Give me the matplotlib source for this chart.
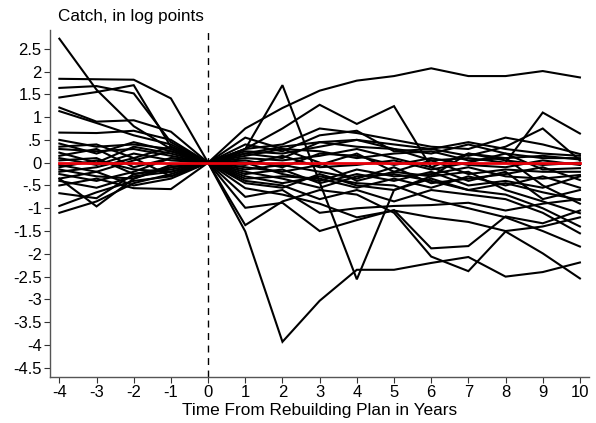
import matplotlib
matplotlib.use("Agg")
import matplotlib.pyplot as plt

# event time in years relative to the rebuilding plan
years_pre = [-4, -3, -2, -1]
years_post = [1, 2, 3, 4, 5, 6, 7, 8, 9, 10]

# log catch relative to year 0, one row per stock, before the plan
pre_catch = [
    [2.72, 1.60, 0.80, 0.30],
    [1.84, 1.83, 1.82, 1.41],
    [1.64, 1.68, 1.52, 0.45],
    [1.43, 1.55, 1.70, 0.35],
    [1.21, 0.90, 0.93, 0.68],
    [1.13, 0.87, 0.60, 0.40],
    [0.66, 0.65, 0.70, 0.50],
    [0.50, 0.35, 0.40, 0.30],
    [0.42, 0.20, 0.45, 0.25],
    [0.35, 0.40, 0.10, 0.35],
    [0.30, 0.25, 0.30, 0.15],
    [0.22, 0.00, 0.35, 0.20],
    [0.15, 0.30, -0.10, 0.10],
    [0.10, -0.05, 0.20, 0.05],
    [0.05, 0.10, -0.25, -0.10],
    [-0.05, -0.20, 0.05, 0.25],
    [-0.10, 0.05, -0.15, -0.20],
    [-0.15, -0.30, -0.35, -0.05],
    [-0.20, -0.10, 0.10, -0.30],
    [-0.25, -0.40, -0.20, 0.10],
    [-0.35, -0.20, -0.50, -0.35],
    [-0.40, -0.55, -0.30, -0.20],
    [-0.50, -0.35, -0.56, -0.58],
    [-0.67, -0.78, -0.25, -0.15],
    [-0.95, -0.65, -0.40, -0.30],
    [-1.10, -0.85, -0.45, -0.25],
    [-0.35, -0.96, -0.35, -0.10],
]

# same stocks after the plan
post_catch = [
    [0.30, 1.70, -0.43, -2.56, -0.60, -0.30, 0.20, 0.10, -0.50, -0.90],
    [0.75, 1.20, 1.58, 1.80, 1.90, 2.07, 1.90, 1.90, 2.01, 1.87],
    [0.30, 0.75, 1.27, 0.85, 1.24, -0.10, -0.40, -0.20, -0.80, -0.60],
    [0.20, 0.35, 0.45, 0.50, 0.30, 0.05, 0.10, 0.00, 1.10, 0.64],
    [-1.51, -3.93, -3.03, -2.35, -2.35, -2.20, -2.07, -2.50, -2.40, -2.19],
    [-1.37, -0.85, -0.60, -0.70, -1.10, -2.06, -2.38, -1.51, -1.99, -2.54],
    [-0.99, -0.88, -1.50, -1.26, -1.04, -1.88, -1.83, -1.18, -1.33, -1.05],
    [-0.75, -0.60, -1.10, -1.00, -0.95, -0.93, -0.88, -1.05, -0.90, -0.80],
    [-0.56, -0.70, -0.90, -1.20, -1.05, -1.20, -1.30, -1.50, -1.40, -1.20],
    [-0.40, -0.50, -0.80, -0.60, -0.85, -0.60, -0.70, -0.80, -1.10, -1.55],
    [-0.30, -0.45, -0.30, -0.45, -0.50, -0.80, -1.00, -1.20, -1.50, -1.84],
    [-0.20, -0.35, -0.55, -0.30, -0.25, -0.40, -0.60, -0.70, -1.00, -1.40],
    [0.55, 0.30, 0.00, -0.40, -0.20, -0.30, -0.20, -0.60, -0.85, -1.11],
    [0.40, 0.25, 0.60, 0.70, 0.25, 0.30, 0.45, 0.30, 0.20, 0.15],
    [0.30, 0.40, 0.75, 0.65, 0.50, 0.35, 0.30, 0.55, 0.40, 0.19],
    [0.25, 0.20, 0.35, 0.50, 0.40, 0.30, 0.15, 0.35, 0.75, 0.05],
    [0.20, 0.10, 0.45, 0.35, 0.30, 0.20, 0.40, 0.20, 0.10, 0.10],
    [0.15, 0.30, 0.25, 0.10, 0.20, 0.25, 0.05, 0.10, 0.15, 0.07],
    [0.10, 0.05, 0.15, 0.30, 0.10, -0.10, 0.20, 0.05, -0.05, 0.00],
    [0.05, -0.10, 0.20, 0.15, -0.05, 0.10, -0.05, -0.10, 0.05, -0.05],
    [-0.05, 0.15, -0.10, -0.05, 0.05, -0.15, 0.00, 0.20, -0.15, -0.12],
    [-0.10, -0.20, -0.05, 0.20, -0.20, 0.05, -0.25, -0.15, -0.20, -0.20],
    [0.00, -0.25, -0.40, -0.15, -0.30, -0.25, -0.10, -0.30, -0.35, -0.27],
    [-0.15, -0.05, -0.20, -0.35, -0.10, -0.45, -0.35, -0.25, -0.10, -0.38],
    [-0.25, -0.15, -0.45, -0.25, -0.40, -0.20, -0.50, -0.40, -0.55, -0.30],
    [-0.35, -0.30, -0.35, -0.55, -0.35, -0.55, -0.30, -0.50, -0.30, -0.55],
    [-0.45, -0.55, -0.25, -0.50, -0.60, -0.35, -0.60, -0.45, -0.65, -0.82],
]

# reference line across the whole window
ref_years = [-4, 10]
ref_catch = [0.0, 0.0]

ytick_vals = [2.5, 2, 1.5, 1, 0.5, 0, -0.5, -1, -1.5, -2, -2.5, -3, -3.5, -4, -4.5]
ytick_labels = ["2.5", "2", "1.5", "1", ".5", "0", "-.5", "-1", "-1.5", "-2",
                "-2.5", "-3", "-3.5", "-4", "-4.5"]

plt.rcParams["font.family"] = ["Liberation Sans", "DejaVu Sans"]
plt.rcParams["axes.unicode_minus"] = False

fig = plt.figure(figsize=(5.96, 4.23), dpi=100)
ax = fig.add_axes([0.084, 0.109, 0.904, 0.82])

years = years_pre + [0] + years_post
for pre, post in zip(pre_catch, post_catch):
    ax.plot(years, pre + [0.0] + post, color="black", lw=1.5,
            solid_joinstyle="miter")

ax.plot(ref_years, ref_catch, color="#e8000b", lw=2.0, zorder=5)
ax.axvline(0, color="black", lw=1.0, ls=(0, (5, 4)), zorder=1)

ax.set_xlim(-4.25, 10.24)
ax.set_ylim(-4.70, 2.91)
ax.set_xticks(range(-4, 11))
ax.set_yticks(ytick_vals)
ax.set_yticklabels(ytick_labels)
ax.tick_params(labelsize=12, length=4, width=0.8, colors="#333333",
               labelcolor="black", pad=2)
ax.spines["top"].set_visible(False)
ax.spines["right"].set_visible(False)
for s in ("left", "bottom"):
    ax.spines[s].set_color("#555555")
    ax.spines[s].set_linewidth(1.0)

ax.set_xlabel("Time From Rebuilding Plan in Years", fontsize=12.4, labelpad=2)
fig.text(0.097, 0.962, "Catch, in log points", fontsize=12.3, va="center",
         ha="left")

fig.savefig("out.png", dpi=100)
